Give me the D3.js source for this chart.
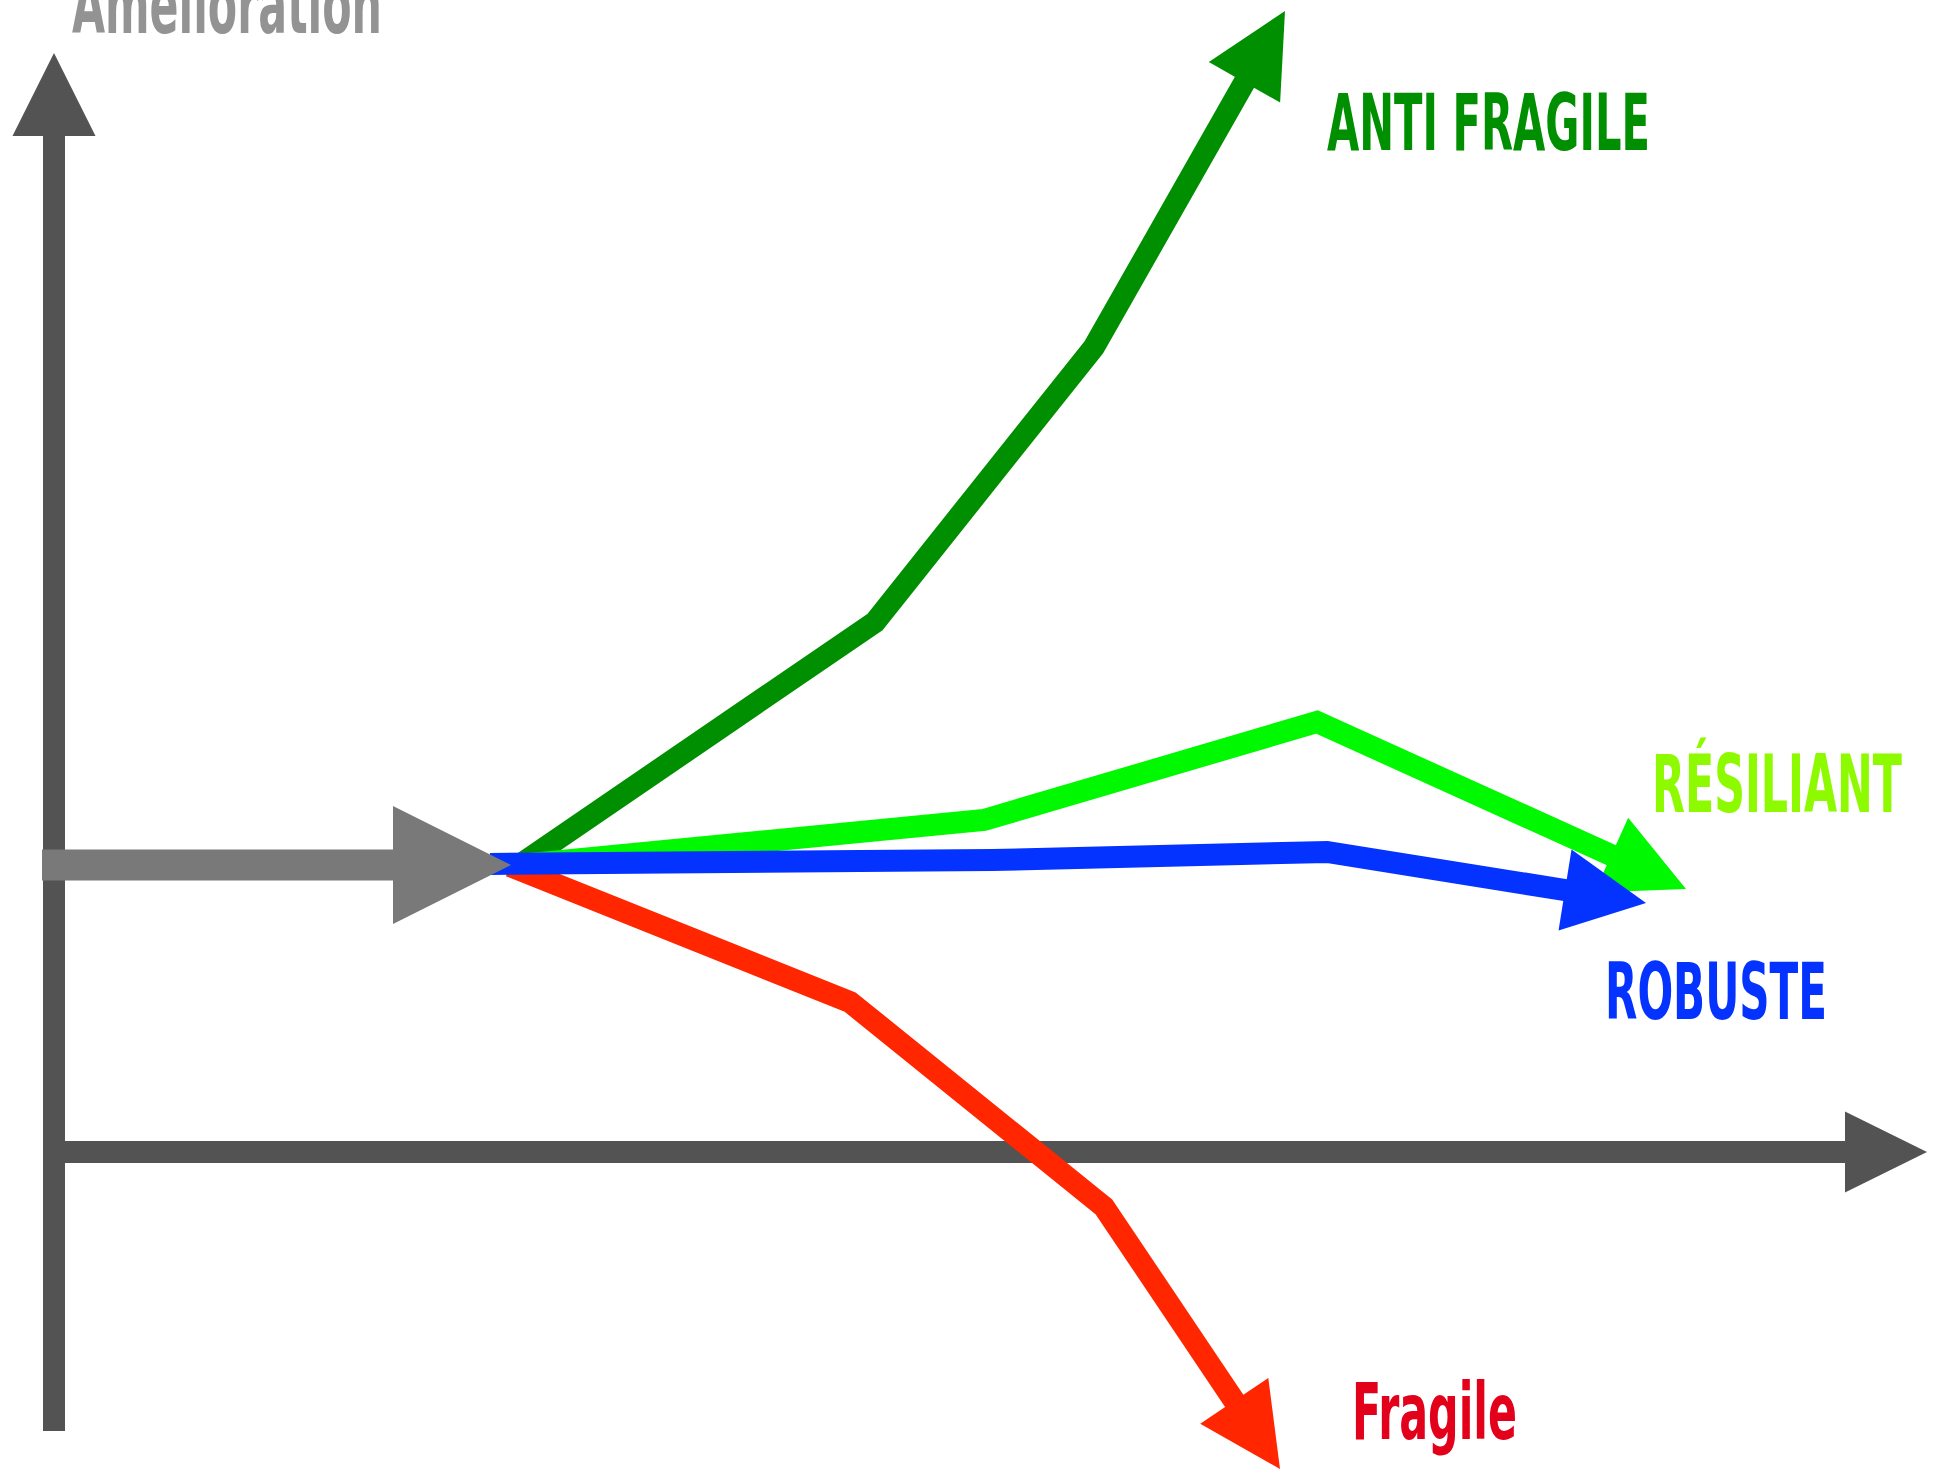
<!DOCTYPE html>
<html>
<head>
<meta charset="utf-8">
<script src="https://cdn.jsdelivr.net/npm/d3@7"></script>
<style>
  html, body { margin: 0; padding: 0; background: #ffffff; overflow: hidden; }
  svg { display: block; }
</style>
</head>
<body>
<script>
// ---- Data (abstract units: x = time, y = level; origin at axis crossing) ----
const seriesNames = ["ANTI FRAGILE", "RÉSILIANT", "ROBUSTE", "Fragile"];
const antiFragileX = [47.0, 82.1, 104.0, 123.1];
const antiFragileY = [29.0, 53.0, 80.5, 114.1];
const resilientX   = [46.6, 93.0, 126.3, 163.2];
const resilientY   = [28.7, 33.2, 43.0, 26.3];
const robusteX     = [43.6, 93.8, 127.3, 159.2];
const robusteY     = [28.8, 29.2, 30.0, 24.9];
const fragileX     = [45.6, 79.6, 105.0, 122.6];
const fragileY     = [28.6, 15.0, -5.5, -31.7];
const startX = [-1.2, 45.7];
const startY = [28.7, 28.7];
const axisYLabel = "Amélioration";

const W = 1933, H = 1470;
const svg = d3.select("body").append("svg").attr("width", W).attr("height", H);

const x = d3.scaleLinear().domain([0, 187.3]).range([54, 1927]);
const y = d3.scaleLinear().domain([0, 109.9]).range([1152, 53]);

// draw a polyline with an arrowhead whose tip is the last point
function arrow(xs, ys, color, width, headLen, headW) {
  const pts = xs.map((v, i) => [x(v), y(ys[i])]);
  const n = pts.length;
  const tip = pts[n - 1], prev = pts[n - 2];
  const dx = tip[0] - prev[0], dy = tip[1] - prev[1];
  const L = Math.hypot(dx, dy), ux = dx / L, uy = dy / L;
  const base = [tip[0] - ux * headLen, tip[1] - uy * headLen];
  const shaft = pts.slice(0, n - 1).concat([[base[0] + ux * 2, base[1] + uy * 2]]);
  const g = svg.append("g");
  g.append("path")
    .attr("d", d3.line()(shaft))
    .attr("fill", "none")
    .attr("stroke", color)
    .attr("stroke-width", width)
    .attr("stroke-linejoin", "miter")
    .attr("stroke-miterlimit", 10)
    .attr("stroke-linecap", "butt");
  const px = -uy, py = ux;
  const head = [
    [base[0] + px * headW / 2, base[1] + py * headW / 2],
    tip,
    [base[0] - px * headW / 2, base[1] - py * headW / 2]
  ];
  g.append("path").attr("d", d3.line()(head) + "Z").attr("fill", color);
}

// axes
arrow([0, 0], [-27.9, 109.9], "#535353", 22, 83, 83);
arrow([0, 187.3], [0, 0], "#535353", 22, 82, 81);

// series
arrow(antiFragileX, antiFragileY, "#008f00", 22, 82, 82);
arrow(resilientX, resilientY, "#00f900", 22, 82, 82);
arrow(fragileX, fragileY, "#ff2600", 22, 82, 82);
arrow(robusteX, robusteY, "#0433ff", 22, 82, 82);

// starting gray arrow
arrow(startX, startY, "#797979", 31, 118, 118);

// labels
const font = "'Liberation Sans Narrow', 'DejaVu Sans Condensed', 'Arial Narrow', sans-serif";
function label(txt, px, py, len, color, size) {
  svg.append("text")
    .attr("x", px).attr("y", py)
    .attr("fill", color)
    .attr("font-family", font)
    .attr("font-weight", "bold")
    .attr("font-size", size)
    .attr("textLength", len)
    .attr("lengthAdjust", "spacingAndGlyphs")
    .text(txt);
}
label(axisYLabel, 72, 33, 310, "#939393", 80);
label(seriesNames[0], 1327, 150, 323, "#008f00", 79);
label(seriesNames[1], 1652, 812, 250, "#8efa00", 80);
label(seriesNames[2], 1605, 1019, 222, "#0433ff", 79);
label(seriesNames[3], 1352, 1439, 165, "#e2001b", 78);
</script>
</body>
</html>
